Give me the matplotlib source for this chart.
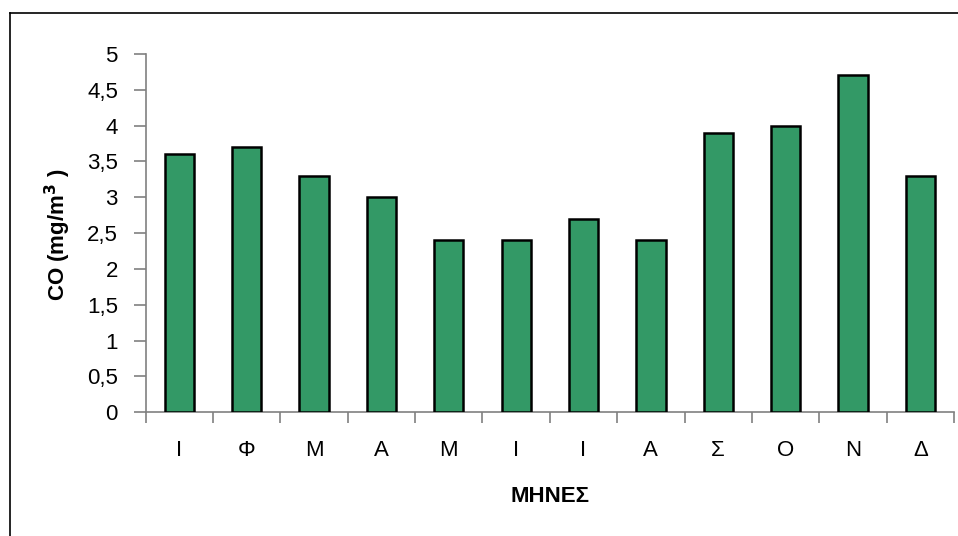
import matplotlib
matplotlib.use("Agg")
import matplotlib.pyplot as plt
from matplotlib.ticker import FixedLocator, FuncFormatter

plt.rcParams['font.family'] = ['Liberation Sans', 'DejaVu Sans']

months = ['Ι', 'Φ', 'Μ', 'Α', 'Μ', 'Ι', 'Ι', 'Α', 'Σ', 'Ο', 'Ν', 'Δ']
co_values = [3.6, 3.7, 3.3, 3.0, 2.4, 2.4, 2.7, 2.4, 3.9, 4.0, 4.7, 3.3]
y_ticks = [0, 0.5, 1, 1.5, 2, 2.5, 3, 3.5, 4, 4.5, 5]

W, H = 958, 536
fig = plt.figure(figsize=(W / 100, H / 100), dpi=100)

# outer chart-area frame (left and top edges visible)
fig.add_artist(plt.Line2D([9.5 / W, 9.5 / W], [0, 1 - 12.5 / H], transform=fig.transFigure,
                          color='black', lw=1.2))
fig.add_artist(plt.Line2D([9.5 / W, 1], [1 - 12.5 / H, 1 - 12.5 / H], transform=fig.transFigure,
                          color='black', lw=1.2))

left, right = 145.7 / W, 954 / W
bottom, top = 1 - 412.3 / H, 1 - 54 / H
ax = fig.add_axes([left, bottom, right - left, top - bottom])

x = list(range(len(months)))
ax.bar(x, co_values, width=0.435, color='#339966', edgecolor='black', linewidth=1.8, zorder=3)

ax.set_xlim(-0.5, len(months) - 0.5)
ax.set_ylim(0, 5)

for s in ['top', 'right']:
    ax.spines[s].set_visible(False)
for s in ['left', 'bottom']:
    ax.spines[s].set_color('#808080')
    ax.spines[s].set_linewidth(1.2)

ax.set_xticks(x)
ax.set_xticklabels(months, fontsize=16)
ax.tick_params(axis='x', which='major', length=0, pad=20)
ax.xaxis.set_minor_locator(FixedLocator([i - 0.5 for i in range(len(months) + 1)]))
ax.tick_params(axis='x', which='minor', length=8, width=1.2, color='#808080', direction='out')

ax.set_yticks(y_ticks)
ax.yaxis.set_major_formatter(FuncFormatter(lambda v, p: f"{v:g}".replace('.', ',')))
ax.tick_params(axis='y', length=9, width=1.2, color='#808080', direction='out', labelsize=16, pad=11)

ax.set_xlabel('ΜΗΝΕΣ', fontsize=16, fontweight='bold')
ax.xaxis.set_label_coords(0.5, (412.3 - 496) / (412.3 - 54), transform=ax.transAxes)
ax.xaxis.label.set_va('center')
ax.set_ylabel('CO (mg/m$^{\\mathbf{3}}$ )', fontsize=16, fontweight='bold')
ax.yaxis.set_label_coords((58 - 145.7) / (954 - 145.7), (412.3 - 235) / (412.3 - 54))
ax.yaxis.label.set_va('center')

fig.savefig('out.png', dpi=100, facecolor='white')
